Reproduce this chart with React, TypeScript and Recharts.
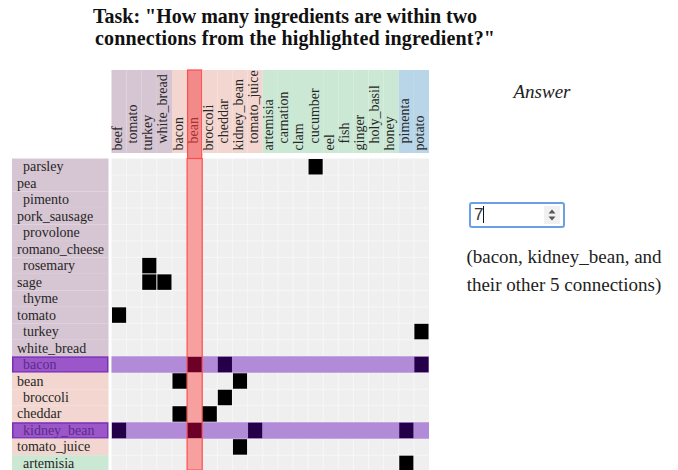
import React from "react";
import { ScatterChart, Scatter, XAxis, YAxis, CartesianGrid, ReferenceArea } from "recharts";

// Columns of the adjacency matrix (what is visible of it)
const columns = [
  "beef", "tomato", "turkey", "white_bread",
  "bacon", "bean", "broccoli", "cheddar", "kidney_bean", "tomato_juice",
  "artemisia", "carnation", "clam", "cucumber", "eel", "fish", "ginger", "holy_basil", "honey",
  "pimenta", "potato",
];
const columnGroups = [0, 0, 0, 0, 1, 1, 1, 1, 1, 1, 2, 2, 2, 2, 2, 2, 2, 2, 2, 3, 3];

// Rows of the matrix
const rows = [
  "parsley", "pea", "pimento", "pork_sausage", "provolone", "romano_cheese", "rosemary", "sage",
  "thyme", "tomato", "turkey", "white_bread",
  "bacon", "bean", "broccoli", "cheddar", "kidney_bean", "tomato_juice",
  "artemisia",
];
const rowGroups = [0, 0, 0, 0, 0, 0, 0, 0, 0, 0, 0, 0, 1, 1, 1, 1, 1, 1, 2];

// Connections shown as filled cells: [row, column]
const links: [string, string][] = [
  ["parsley", "cucumber"],
  ["rosemary", "turkey"],
  ["sage", "turkey"],
  ["sage", "white_bread"],
  ["tomato", "beef"],
  ["turkey", "potato"],
  ["bacon", "bean"],
  ["bacon", "cheddar"],
  ["bacon", "potato"],
  ["bean", "bacon"],
  ["bean", "kidney_bean"],
  ["broccoli", "cheddar"],
  ["cheddar", "bacon"],
  ["cheddar", "broccoli"],
  ["kidney_bean", "beef"],
  ["kidney_bean", "bean"],
  ["kidney_bean", "tomato_juice"],
  ["kidney_bean", "pimenta"],
  ["tomato_juice", "kidney_bean"],
  ["artemisia", "pimenta"],
];

const highlighted = "bean";
const highlightedRows = ["bacon", "kidney_bean"];

const groupColors = ["#d6c5d2", "#f2d6cf", "#cbe8d4", "#b9d6e9"];

// layout
const W = 678;
const H = 470;
const PLOT_LEFT = 111.5;
const PLOT_RIGHT = 429;
const PLOT_TOP = 158.5;
const HEADER_TOP = 70;
const HEADER_BOTTOM = 153;
const LABEL_LEFT = 12;
const LABEL_RIGHT = 108.5;
const VISIBLE_ROWS = 18.9; // last row is cut by the bottom edge
const COL_W = (PLOT_RIGHT - PLOT_LEFT) / columns.length;
const ROW_H = (H - PLOT_TOP) / VISIBLE_ROWS;
const FONT = "'Liberation Serif', 'Times New Roman', serif";

const cells = links.map(([r, c]) => ({
  x: columns.indexOf(c) + 0.5,
  y: rows.indexOf(r) + 0.5,
  row: r,
  col: c,
}));

const ColumnTick = (props: any) => {
  const { x, payload } = props;
  const i = Math.floor(payload.value);
  const name = columns[i];
  const isHL = name === highlighted;
  const start = i % 2 === 0 ? 150.5 : 143.5;
  return (
    <g>
      <rect x={x - COL_W / 2} y={HEADER_TOP} width={COL_W} height={HEADER_BOTTOM - HEADER_TOP} fill={groupColors[columnGroups[i]]} />
      {isHL && (
        <rect x={x - COL_W / 2 + 0.5} y={HEADER_TOP} width={COL_W - 1} height={PLOT_TOP - HEADER_TOP} fill="#f18a89" stroke="#ff4d4d" strokeWidth={1.2} />
      )}
      <text
        transform={`translate(${x + 3},${start}) rotate(-90)`}
        fontSize={14}
        fontFamily={FONT}
        fill={isHL ? "#a8302f" : "#262626"}
      >
        {name}
      </text>
    </g>
  );
};

const RowTick = (props: any) => {
  const { y, payload } = props;
  const i = Math.floor(payload.value);
  const name = rows[i];
  const isHL = highlightedRows.includes(name);
  return (
    <g>
      <rect
        x={LABEL_LEFT + (isHL ? 0.75 : 0)}
        y={y - ROW_H / 2 + (isHL ? 0.75 : 0)}
        width={LABEL_RIGHT - LABEL_LEFT - (isHL ? 1.5 : 0)}
        height={ROW_H - (isHL ? 1.5 : 0)}
        fill={isHL ? "#9b57c9" : groupColors[rowGroups[i]]}
        stroke={isHL ? "#7b30b2" : "none"}
        strokeWidth={1.5}
      />
      <text x={i % 2 === 0 ? 23 : 17} y={y + 4.5} fontSize={14} fontFamily={FONT} fill={isHL ? "#5b2a8c" : "#262626"}>
        {name}
      </text>
    </g>
  );
};

const CellShape = (props: any) => {
  const { cx, cy, payload } = props;
  const inRow = highlightedRows.includes(payload.row);
  const inCol = payload.col === highlighted;
  const fill = inRow && inCol ? "#6c0027" : inRow ? "#230047" : "#000000";
  return <rect x={cx - COL_W / 2 + 0.5} y={cy - ROW_H / 2 + 0.5} width={COL_W - 1} height={ROW_H - 1} fill={fill} />;
};

// grid lines on the cell boundaries
const vGrid = (p: any) =>
  columns.slice(1).map((_, k) => p.offset.left + ((k + 1) * p.offset.width) / columns.length);
const hGrid = (p: any) =>
  rows.slice(1).map((_, k) => p.offset.top + ((k + 1) * p.offset.height) / VISIBLE_ROWS);

export default function App() {
  return (
    <div style={{ position: "absolute", left: 0, top: 0, width: W, height: H, overflow: "hidden", background: "#fff" }}>
      <ScatterChart
        width={W}
        height={H}
        margin={{ top: HEADER_TOP, right: W - PLOT_RIGHT, bottom: 0, left: LABEL_LEFT + 1.5 }}
      >
        <CartesianGrid
          fill="#efefef"
          stroke="#f7f7f7"
          verticalCoordinatesGenerator={vGrid}
          horizontalCoordinatesGenerator={hGrid}
        />
        <XAxis
          type="number"
          dataKey="x"
          orientation="top"
          domain={[0, columns.length]}
          ticks={columns.map((_, i) => i + 0.5)}
          interval={0}
          height={PLOT_TOP - HEADER_TOP}
          axisLine={false}
          tickLine={false}
          allowDataOverflow
          tick={<ColumnTick />}
        />
        <YAxis
          type="number"
          dataKey="y"
          domain={[0, VISIBLE_ROWS]}
          reversed
          ticks={rows.map((_, i) => i + 0.5)}
          interval={0}
          width={PLOT_LEFT - LABEL_LEFT - 1.5}
          axisLine={false}
          tickLine={false}
          allowDataOverflow
          tick={<RowTick />}
        />
        {highlightedRows.map((r) => (
          <ReferenceArea
            key={r}
            x1={0}
            x2={columns.length}
            y1={rows.indexOf(r)}
            y2={rows.indexOf(r) + 1}
            fill="#b28bd8"
            fillOpacity={1}
            stroke="none"
          />
        ))}
        <ReferenceArea
          x1={columns.indexOf(highlighted)}
          x2={columns.indexOf(highlighted) + 1}
          y1={0}
          y2={VISIBLE_ROWS}
          fill="#f6a0a0"
          fillOpacity={1}
          stroke="#ff4d4d"
          strokeWidth={1.2}
        />
        <Scatter data={cells} shape={<CellShape />} isAnimationActive={false} />
      </ScatterChart>

      <div style={{ position: "absolute", left: 93, top: 5, font: `bold 20px ${FONT}`, lineHeight: "22px", color: "#111", whiteSpace: "nowrap" }}>
        Task: "How many ingredients are within two
      </div>
      <div style={{ position: "absolute", left: 95, top: 27, font: `bold 20px ${FONT}`, lineHeight: "22px", letterSpacing: "0.14px", color: "#111", whiteSpace: "nowrap" }}>
        connections from the highlighted ingredient?"
      </div>

      <div style={{ position: "absolute", left: 442, top: 81, width: 200, textAlign: "center", font: `italic 19px ${FONT}`, lineHeight: "22px", color: "#222" }}>
        Answer
      </div>

      <div
        style={{
          position: "absolute",
          left: 469,
          top: 202,
          width: 96,
          height: 26,
          boxSizing: "border-box",
          border: "2px solid #6b9fe6",
          borderRadius: 3,
          background: "#fff",
        }}
      >
        <span style={{ position: "absolute", left: 3, top: 1, font: "17px 'Liberation Sans', Arial, sans-serif", lineHeight: "20px", color: "#333" }}>7</span>
        <span style={{ position: "absolute", left: 12, top: 2, width: 1, height: 17, background: "#111" }} />
        <svg style={{ position: "absolute", left: 73, top: 2 }} width={16} height={18}>
          <rect x={0} y={0} width={16} height={18} fill="#f1f1f1" />
          <path d="M8 3.5 L11.5 7.5 L4.5 7.5 Z" fill="#555" />
          <path d="M8 14.5 L11.5 10.5 L4.5 10.5 Z" fill="#555" />
        </svg>
      </div>

      <div style={{ position: "absolute", left: 450, top: 243, width: 228, textAlign: "center", font: `19px ${FONT}`, lineHeight: "28px", color: "#222" }}>
        (bacon, kidney_bean, and
        <br />
        their other 5 connections)
      </div>
    </div>
  );
}
